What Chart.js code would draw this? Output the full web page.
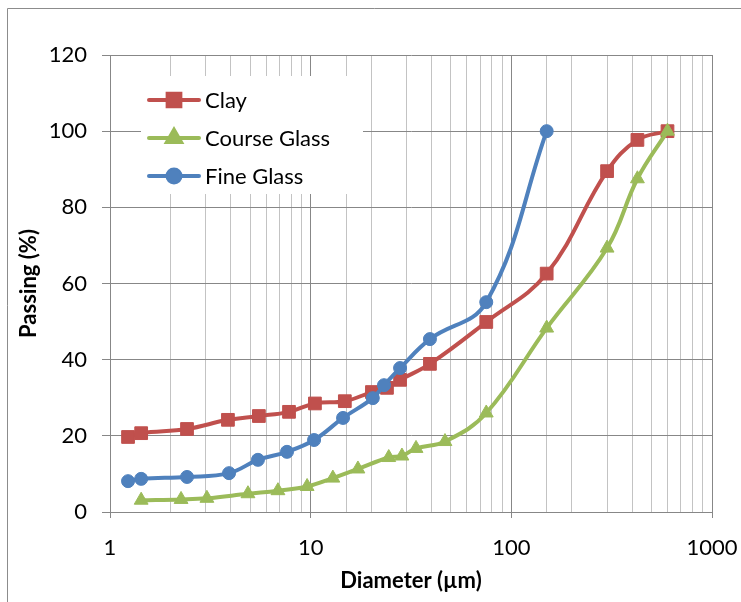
<!DOCTYPE html>
<html>
<head>
<meta charset="utf-8">
<script src="https://cdn.jsdelivr.net/npm/chart.js@4.4.1/dist/chart.umd.min.js"></script>
<style>
  html, body { margin: 0; padding: 0; background: #fff; }
  #wrap { width: 741px; height: 602px; position: relative; }
</style>
</head>
<body>
<div id="wrap"><canvas id="psdChart" width="741" height="602"></canvas></div>
<script>
// Particle size distribution
const seriesNames = ['Clay', 'Course Glass', 'Fine Glass'];

const clayX = [1.23, 1.43, 2.42, 3.87, 5.52, 7.8, 10.5, 14.8, 20.2, 24, 27.9, 39.3, 75, 150, 300, 425, 600];
const clayY = [19.7, 20.7, 21.8, 24.2, 25.2, 26.3, 28.5, 29.1, 31.5, 32.6, 34.7, 38.9, 49.9, 62.6, 89.5, 97.7, 100];

const courseX = [1.43, 2.26, 3.04, 4.87, 6.87, 9.6, 12.9, 17.2, 24.5, 28.5, 33.5, 46.7, 75, 150, 300, 425, 600];
const courseY = [3.1, 3.3, 3.6, 4.8, 5.6, 6.7, 8.9, 11.3, 14.3, 14.7, 16.7, 18.5, 26.0, 48.3, 69.3, 87.5, 100];

const fineX = [1.23, 1.43, 2.42, 3.92, 5.46, 7.62, 10.4, 14.5, 20.4, 23.2, 27.9, 39.3, 75, 150];
const fineY = [8.1, 8.7, 9.2, 10.2, 13.7, 15.8, 18.9, 24.7, 29.9, 33.3, 37.8, 45.4, 55.1, 100];

const xLabels = [1, 10, 100, 1000];
const yTicks = [0, 20, 40, 60, 80, 100, 120];

const FONT = 'Lato, "Open Sans", sans-serif';
const RED = '#C0504D';
const GREEN = '#9BBB59';
const BLUE = '#4F81BD';
const GRID_MAJOR = '#878787';
const GRID_MINOR = '#C3C3C3';

function toPoints(xs, ys) {
    return xs.map((x, i) => ({ x: x, y: ys[i] }));
}

function isDecade(v) {
    const l = Math.log10(v);
    return Math.abs(l - Math.round(l)) < 1e-9;
}

function makeDataset(label, xs, ys, color, style, radius, order) {
    return {
        label: label,
        data: toPoints(xs, ys),
        borderColor: color,
        backgroundColor: color,
        borderWidth: 4,
        pointStyle: style,
        pointRadius: radius,
        pointHoverRadius: radius,
        pointBorderWidth: 1,
        pointBorderColor: color,
        pointBackgroundColor: color,
        tension: 0.4,
        order: order
    };
}

// legend sits inside the plot, top-left, on a white box
const insideLegend = {
    id: 'insideLegend',
    afterDraw(chart) {
        const c = chart.ctx;
        c.save();
        c.fillStyle = '#fff';
        c.fillRect(141, 76, 222, 118);
        const rows = [100, 138, 176];
        chart.data.datasets.forEach((ds, i) => {
            const y = rows[i];
            c.strokeStyle = ds.borderColor;
            c.lineWidth = 4;
            c.lineCap = 'round';
            c.beginPath();
            c.moveTo(149, y);
            c.lineTo(199, y);
            c.stroke();
            c.fillStyle = ds.backgroundColor;
            Chart.helpers.drawPoint(c, { pointStyle: ds.pointStyle, radius: ds.pointRadius, borderWidth: 1 }, 174, y);
            c.fill();
            c.fillStyle = '#000';
            c.font = '22px ' + FONT;
            c.textBaseline = 'middle';
            c.textAlign = 'left';
            c.fillText(ds.label, 205, y + 1);
        });
        c.restore();
    }
};

// outer frame of the chart (only top and left edges show)
const frame = {
    id: 'frame',
    beforeDraw(chart) {
        const c = chart.ctx;
        c.save();
        c.strokeStyle = '#8C8C8C';
        c.lineWidth = 1;
        c.beginPath();
        c.moveTo(7.5, 602);
        c.lineTo(7.5, 8.5);
        c.lineTo(741, 8.5);
        c.stroke();
        c.restore();
    }
};

new Chart(document.getElementById('psdChart'), {
    type: 'line',
    data: {
        datasets: [
            makeDataset(seriesNames[0], clayX, clayY, RED, 'rect', 9, 3),
            makeDataset(seriesNames[1], courseX, courseY, GREEN, 'triangle', 8, 2),
            makeDataset(seriesNames[2], fineX, fineY, BLUE, 'circle', 6.5, 1)
        ]
    },
    options: {
        responsive: false,
        animation: false,
        devicePixelRatio: 1,
        layout: {
            padding: { left: 0, right: 29, top: 55, bottom: 0 }
        },
        scales: {
            x: {
                type: 'logarithmic',
                min: 1,
                max: 1000,
                afterFit: function (scale) {
                    scale.height = 90;
                    scale.paddingLeft = 0;
                    scale.paddingRight = 0;
                },
                border: { color: GRID_MAJOR, width: 1 },
                grid: {
                    color: ctx => isDecade(ctx.tick.value) ? GRID_MAJOR : GRID_MINOR,
                    lineWidth: 1,
                    tickLength: 6,
                    tickColor: ctx => isDecade(ctx.tick.value) ? GRID_MAJOR : 'rgba(0,0,0,0)'
                },
                ticks: {
                    autoSkip: false,
                    maxRotation: 0,
                    padding: 17,
                    color: '#000',
                    font: { family: FONT, size: 22 },
                    callback: function (value) {
                        return xLabels.includes(value) ? String(value) : '';
                    }
                },
                title: {
                    display: true,
                    text: 'Diameter (µm)',
                    color: '#000',
                    font: { family: FONT, size: 22, weight: 'bold' },
                    padding: { top: 0, bottom: 8 }
                }
            },
            y: {
                min: yTicks[0],
                max: yTicks[yTicks.length - 1],
                afterFit: function (scale) {
                    scale.width = 110;
                    scale.paddingTop = 0;
                    scale.paddingBottom = 0;
                },
                afterBuildTicks: function (scale) {
                    scale.ticks = yTicks.map(v => ({ value: v }));
                },
                border: { color: GRID_MAJOR, width: 1 },
                grid: {
                    color: GRID_MAJOR,
                    lineWidth: 1,
                    tickLength: 8,
                    tickColor: GRID_MAJOR
                },
                ticks: {
                    padding: 15,
                    color: '#000',
                    font: { family: FONT, size: 22 }
                },
                title: {
                    display: true,
                    text: 'Passing (%)',
                    color: '#000',
                    font: { family: FONT, size: 22, weight: 'bold' },
                    padding: { top: 16, bottom: 0 }
                }
            }
        },
        plugins: {
            legend: { display: false },
            tooltip: { enabled: false }
        }
    },
    plugins: [frame, insideLegend]
});
</script>
</body>
</html>
